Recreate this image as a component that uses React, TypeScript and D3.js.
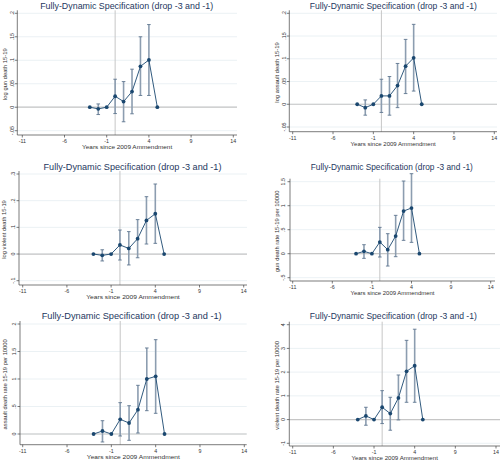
import React from "react";
import * as d3 from "d3";

const periods = [-3, -2, -1, 0, 1, 2, 3, 4, 5];
const xTicks = [-11, -6, -1, 4, 9, 14];
const chartTitle = "Fully-Dynamic Specification (drop -3 and -1)";
const xTitle = "Years since 2009 Ammendment";

const yTitles = [
  "log gun death 15-19",
  "log assault death 15-19",
  "log violent death 15-19",
  "gun death rate 15-19 per 10000",
  "assault death rate 15-19 per 10000",
  "violent death rate 15-19 per 10000",
];

const yTickValues = [
  [-0.05, 0, 0.05, 0.1, 0.15, 0.2],
  [-0.05, 0, 0.05, 0.1, 0.15, 0.2],
  [-0.1, 0, 0.1, 0.2, 0.3],
  [-0.5, 0, 0.5, 1, 1.5],
  [0, 0.5, 1, 1.5, 2],
  [-1, 0, 1, 2, 3, 4],
];
const yTickLabels = [
  ["-.05", "0", ".05", ".1", ".15", ".2"],
  ["-.05", "0", ".05", ".1", ".15", ".2"],
  ["-.1", "0", ".1", ".2", ".3"],
  ["-.5", "0", ".5", "1", "1.5"],
  ["0", ".5", "1", "1.5", "2"],
  ["-1", "0", "1", "2", "3", "4"],
];

const coefGunLog = [0, -0.0035, 0, 0.0234, 0.012, 0.0333, 0.087, 0.1007, 0];
const loGunLog = [null, -0.0156, null, -0.0135, -0.031, -0.014, 0.025, 0.025, null];
const hiGunLog = [null, 0.007, null, 0.0596, 0.0546, 0.081, 0.15, 0.176, null];

const coefAssaultLog = [0, -0.0074, 0, 0.0184, 0.0184, 0.041, 0.0838, 0.102, 0];
const loAssaultLog = [null, -0.024, null, -0.018, -0.024, -0.0074, 0.0235, 0.029, null];
const hiAssaultLog = [null, 0.0096, null, 0.055, 0.061, 0.0897, 0.1426, 0.1757, null];

const coefViolentLog = [0, -0.005, 0, 0.034, 0.021, 0.0575, 0.126, 0.151, 0];
const loViolentLog = [null, -0.026, null, -0.0225, -0.041, -0.014, 0.0375, 0.04, null];
const hiViolentLog = [null, 0.016, null, 0.09, 0.084, 0.129, 0.215, 0.2625, null];

const coefGunRate = [0, 0.049, 0, 0.243, 0.083, 0.368, 0.889, 0.951, 0];
const loGunRate = [null, -0.097, null, -0.069, -0.257, -0.0625, 0.278, 0.236, null];
const hiGunRate = [null, 0.1875, null, 0.549, 0.417, 0.799, 1.514, 1.667, null];

const coefAssaultRate = [0, 0.0545, 0, 0.267, 0.2, 0.442, 1.0, 1.048, 0];
const loAssaultRate = [null, -0.145, null, -0.036, -0.115, 0.018, 0.424, 0.376, null];
const hiAssaultRate = [null, 0.242, null, 0.57, 0.515, 0.885, 1.564, 1.715, null];

const coefViolentRate = [0, 0.154, 0, 0.519, 0.252, 0.912, 2.034, 2.27, 0];
const loViolentRate = [null, -0.238, null, -0.168, -0.449, -0.014, 0.729, 0.729, null];
const hiViolentRate = [null, 0.519, null, 1.22, 0.94, 1.88, 3.34, 3.81, null];

const coefs = [coefGunLog, coefAssaultLog, coefViolentLog, coefGunRate, coefAssaultRate, coefViolentRate];
const los = [loGunLog, loAssaultLog, loViolentLog, loGunRate, loAssaultRate, loViolentRate];
const his = [hiGunLog, hiAssaultLog, hiViolentLog, hiGunRate, hiAssaultRate, hiViolentRate];

// layout per panel (pixel geometry)
const layouts = [
  { axisX: 17.3, x0: 22.3, x1: 233.3, right: 237, axisY: 135, yBotPx: 130.7, yTopPx: 13.3, titleX: 126.7, titleW: 173, titleY: 8.5, yLabX: 12.3, yTitleX: 5 },
  { axisX: 289.3, x0: 292.7, x1: 494.3, right: 497, axisY: 131.7, yBotPx: 127, yTopPx: 13.3, titleX: 393.3, titleW: 167, titleY: 8.5, yLabX: 284, yTitleX: 276.7 },
  { axisX: 19, x0: 22.7, x1: 243.7, right: 247, axisY: 285, yBotPx: 280.7, yTopPx: 174, titleX: 132.5, titleW: 178, titleY: 170, yLabX: 13.3, yTitleX: 4 },
  { axisX: 290, x0: 292.7, x1: 490.7, right: 495, axisY: 281, yBotPx: 277.7, yTopPx: 181.7, titleX: 391.8, titleW: 162, titleY: 170, yLabX: 283.3, yTitleX: 277.3 },
  { axisX: 20, x0: 22.7, x1: 244.3, right: 246.7, axisY: 444.7, yBotPx: 434, yTopPx: 324, titleX: 131.7, titleW: 180, titleY: 318.5, yLabX: 14, yTitleX: 5 },
  { axisX: 289.3, x0: 292.7, x1: 496, right: 500, axisY: 446, yBotPx: 443.3, yTopPx: 324.7, titleX: 393.3, titleW: 167, titleY: 318.5, yLabX: 283.3, yTitleX: 276.7 },
];

const NAVY = "#1a476f";
const CI = "#8c9db0";
const FONT = "Arial, 'Liberation Sans', Helvetica, sans-serif";

function Panel({ i }: { i: number }) {
  const L = layouts[i];
  const ticks = yTickValues[i];
  const labels = yTickLabels[i];
  const x = d3.scaleLinear().domain([-11, 14]).range([L.x0, L.x1]);
  const y = d3.scaleLinear().domain([ticks[0], ticks[ticks.length - 1]]).range([L.yBotPx, L.yTopPx]);
  const coef = coefs[i];
  const lo = los[i];
  const hi = his[i];
  const pts = periods.map((p, k) => [p, coef[k]] as [number, number]);
  const line = d3.line<[number, number]>().x((d) => x(d[0])).y((d) => y(d[1]));
  const yMid = (L.yTopPx + L.axisY) / 2;
  const plotTop = L.yTopPx - 3;
  const xLabY = L.axisY + 8;
  const xTitleY = Math.min(L.axisY + 14, 461);
  const xTitleW = 0.41 * (L.right - L.axisX);
  return (
    <g>
      <text
        x={L.titleX}
        y={L.titleY}
        textAnchor="middle"
        fontSize={9}
        fill="#1e3760"
        fontFamily={FONT}
        textLength={L.titleW}
        lengthAdjust="spacingAndGlyphs"
      >
        {chartTitle}
      </text>
      {/* gridlines */}
      {ticks.map((t) => (
        <line key={"g" + t} x1={L.axisX} x2={L.right} y1={y(t)} y2={y(t)} stroke="#e6edf1" strokeWidth={0.8} />
      ))}
      {/* zero line */}
      <line x1={L.axisX} x2={L.right} y1={y(0)} y2={y(0)} stroke="#c6c6c6" strokeWidth={1.2} />
      {/* vertical line at 0 */}
      <line x1={x(0)} x2={x(0)} y1={plotTop} y2={L.axisY} stroke="#c6c6c6" strokeWidth={1} />
      {/* axes */}
      <line x1={L.axisX} x2={L.axisX} y1={plotTop} y2={L.axisY} stroke="#444" strokeWidth={0.7} />
      <line x1={L.axisX} x2={L.right} y1={L.axisY} y2={L.axisY} stroke="#444" strokeWidth={0.7} />
      {ticks.map((t, k) => (
        <g key={"yt" + t}>
          <line x1={L.axisX - 2.5} x2={L.axisX} y1={y(t)} y2={y(t)} stroke="#444" strokeWidth={0.7} />
          <text
            transform={`translate(${L.yLabX},${y(t)}) rotate(-90)`}
            textAnchor="middle"
            dy="0.35em"
            fontSize={5.3}
            fill="#333"
            fontFamily={FONT}
          >
            {labels[k]}
          </text>
        </g>
      ))}
      {xTicks.map((t) => (
        <g key={"xt" + t}>
          <line x1={x(t)} x2={x(t)} y1={L.axisY} y2={L.axisY + 2.5} stroke="#444" strokeWidth={0.7} />
          <text x={x(t)} y={xLabY} textAnchor="middle" fontSize={5.3} fill="#333" fontFamily={FONT}>
            {t}
          </text>
        </g>
      ))}
      <text
        x={(L.axisX + L.right) / 2}
        y={xTitleY}
        textAnchor="middle"
        fontSize={5.6}
        fill="#333"
        fontFamily={FONT}
        textLength={xTitleW}
        lengthAdjust="spacingAndGlyphs"
      >
        {xTitle}
      </text>
      <text
        transform={`translate(${L.yTitleX},${yMid}) rotate(-90)`}
        textAnchor="middle"
        dy="0.35em"
        fontSize={5.8}
        fill="#333"
        fontFamily={FONT}
      >
        {yTitles[i]}
      </text>
      {/* CI bars */}
      {periods.map((p, k) =>
        lo[k] == null ? null : (
          <g key={"ci" + p}>
            <line x1={x(p)} x2={x(p)} y1={y(lo[k] as number)} y2={y(hi[k] as number)} stroke={CI} strokeWidth={1.6} />
            <line x1={x(p) - 1.8} x2={x(p) + 1.8} y1={y(lo[k] as number)} y2={y(lo[k] as number)} stroke="#5f7690" strokeWidth={0.9} />
            <line x1={x(p) - 1.8} x2={x(p) + 1.8} y1={y(hi[k] as number)} y2={y(hi[k] as number)} stroke="#5f7690" strokeWidth={0.9} />
          </g>
        )
      )}
      <path d={line(pts) || ""} fill="none" stroke={NAVY} strokeWidth={0.9} />
      {pts.map((d) => (
        <circle key={"p" + d[0]} cx={x(d[0])} cy={y(d[1])} r={1.9} fill={NAVY} />
      ))}
    </g>
  );
}

export default function App() {
  return (
    <svg
      width={500}
      height={463}
      style={{ position: "absolute", left: 0, top: 0, background: "#fff" }}
    >
      <rect x={0} y={0} width={500} height={463} fill="#fff" />
      {layouts.map((_, i) => (
        <Panel key={i} i={i} />
      ))}
    </svg>
  );
}
